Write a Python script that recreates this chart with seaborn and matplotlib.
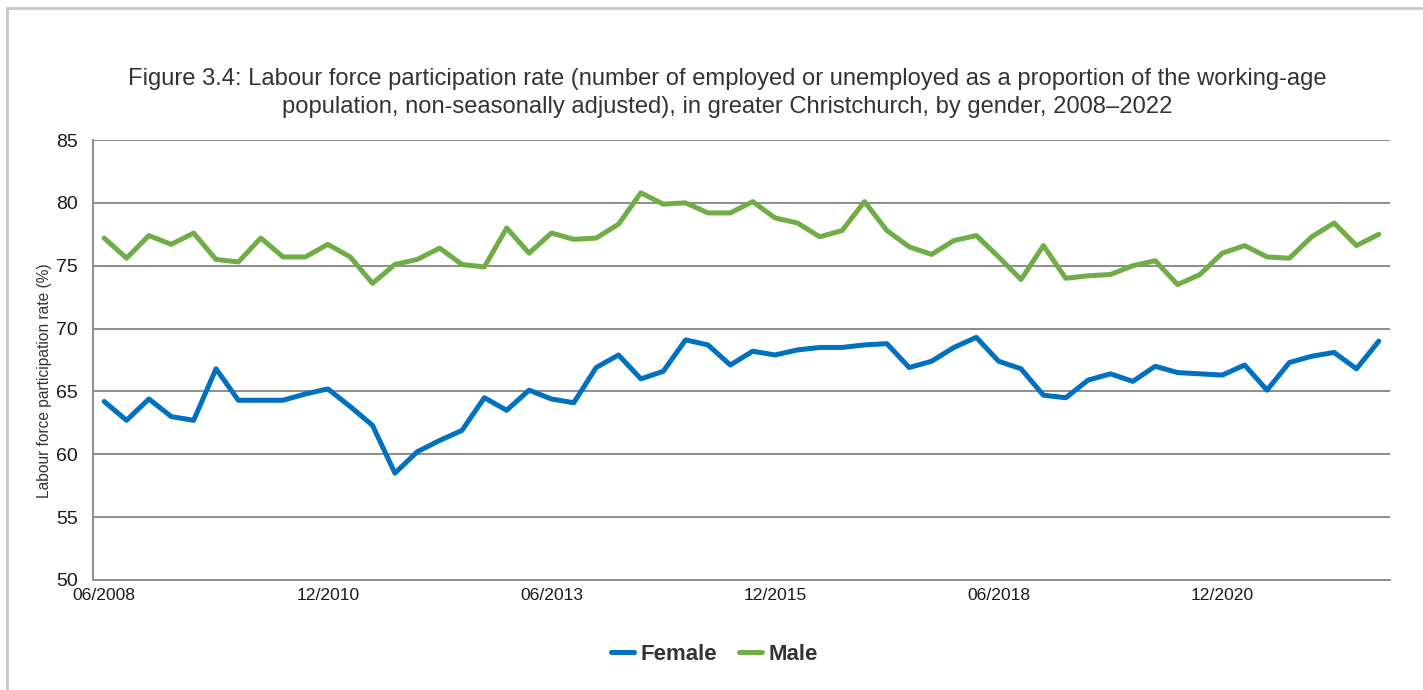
import numpy as np
import pandas as pd
import matplotlib
matplotlib.use("Agg")
import matplotlib.pyplot as plt
from matplotlib import font_manager
from matplotlib.patches import Rectangle
from matplotlib.lines import Line2D
import seaborn as sns

# ---- data (quarterly, 06/2008 .. 09/2022) ----
quarters = pd.period_range("2008Q2", "2022Q3", freq="Q")
quarter_labels = [f"{q.end_time.month:02d}/{q.year}" for q in quarters]

female = [64.2, 62.7, 64.4, 63.0, 62.7, 66.8, 64.3, 64.3, 64.3, 64.8,
          65.2, 63.8, 62.3, 58.5, 60.2, 61.1, 61.9, 64.5, 63.5, 65.1,
          64.4, 64.1, 66.9, 67.9, 66.0, 66.6, 69.1, 68.7, 67.1, 68.2,
          67.9, 68.3, 68.5, 68.5, 68.7, 68.8, 66.9, 67.4, 68.5, 69.3,
          67.4, 66.8, 64.7, 64.5, 65.9, 66.4, 65.8, 67.0, 66.5, 66.4,
          66.3, 67.1, 65.1, 67.3, 67.8, 68.1, 66.8, 69.0]
male = [77.2, 75.6, 77.4, 76.7, 77.6, 75.5, 75.3, 77.2, 75.7, 75.7,
        76.7, 75.7, 73.6, 75.1, 75.5, 76.4, 75.1, 74.9, 78.0, 76.0,
        77.6, 77.1, 77.2, 78.3, 80.8, 79.9, 80.0, 79.2, 79.2, 80.1,
        78.8, 78.4, 77.3, 77.8, 80.1, 77.8, 76.5, 75.9, 77.0, 77.4,
        75.7, 73.9, 76.6, 74.0, 74.2, 74.3, 75.0, 75.4, 73.5, 74.3,
        76.0, 76.6, 75.7, 75.6, 77.3, 78.4, 76.6, 77.5]
series_names = ["Female", "Male"]
tick_every = 10
y_ticks = [50, 55, 60, 65, 70, 75, 80, 85]

title = ("Figure 3.4: Labour force participation rate (number of employed or unemployed as a proportion of the working-age\n"
         "population, non-seasonally adjusted), in greater Christchurch, by gender, 2008\u20132022")
ylabel = "Labour force participation rate (%)"

colors = {"Female": "#0070C0", "Male": "#70AD47"}

n = len(quarter_labels)
df = pd.DataFrame({
    "idx": list(range(n)) * 2,
    "value": female + male,
    "gender": ["Female"] * n + ["Male"] * n,
})

sns.set_theme(style="white")
plt.rcParams["font.family"] = ["Liberation Sans", "DejaVu Sans"]

installed = {f.name for f in font_manager.fontManager.ttflist}
if "Liberation Sans Narrow" in installed:
    xfont, xsize = "Liberation Sans Narrow", 14.5
else:
    xfont, xsize = "Liberation Sans", 12.6

fig = plt.figure(figsize=(14.23, 6.90), dpi=100)
ax = fig.add_axes([93 / 1423, 1 - 580 / 690, (1390 - 93) / 1423, (580 - 140) / 690])

# outer light border
fig.patches.append(Rectangle((7 / 1423, -0.1), 1.2, 1 - 8 / 690 + 0.1,
                             transform=fig.transFigure, fill=False,
                             edgecolor="#c6c6c6", linewidth=2, zorder=0))

sns.lineplot(data=df, x="idx", y="value", hue="gender", hue_order=series_names,
             palette=colors, linewidth=3.6, ax=ax, legend=False)

ax.set_xlim(-0.5, n - 0.5)
ax.set_ylim(50, 85)
ax.set_yticks(y_ticks)
ax.set_yticklabels([str(v) for v in y_ticks])
xt = list(range(0, n, tick_every))
ax.set_xticks(xt)
ax.set_xticklabels([quarter_labels[i] for i in xt])

grid_col = "#8c8c8c"
ax.grid(False)
for v in y_ticks[1:]:
    ax.axhline(v, color=grid_col, linewidth=1.4, zorder=0)

for s in ["top", "right"]:
    ax.spines[s].set_visible(False)
for s in ["left", "bottom"]:
    ax.spines[s].set_color(grid_col)
    ax.spines[s].set_linewidth(1.4)

ax.tick_params(axis="y", which="major", direction="out", length=6, width=1.2,
               color=grid_col, pad=5, labelcolor="#1a1a1a", labelsize=14)
ax.tick_params(axis="x", which="major", direction="out", length=5, width=1.2,
               color=grid_col, pad=0.5, labelcolor="#1a1a1a")
for lab in ax.get_xticklabels():
    lab.set_fontfamily(xfont)
    lab.set_fontsize(xsize)

ax.set_xlabel("")
ax.set_ylabel(ylabel, fontsize=11.2, color="#333333")
ax.yaxis.set_label_coords(-0.0315, 0.452)

fig.text(0.511, 1 - 93 / 690, title, ha="center", va="center",
         fontsize=17.1, color="#333333", linespacing=1.36)

handles = [Line2D([0], [0], color=colors[g], linewidth=3.6) for g in series_names]
leg = fig.legend(handles, series_names, loc="center", bbox_to_anchor=(0.502, 1 - 654 / 690),
                 ncol=2, frameon=False, handlelength=1.05, handletextpad=0.3,
                 columnspacing=0.95, prop={"weight": "bold", "size": 16})
for t in leg.get_texts():
    t.set_color("#333333")

fig.savefig("out.png", dpi=100, facecolor="white")
